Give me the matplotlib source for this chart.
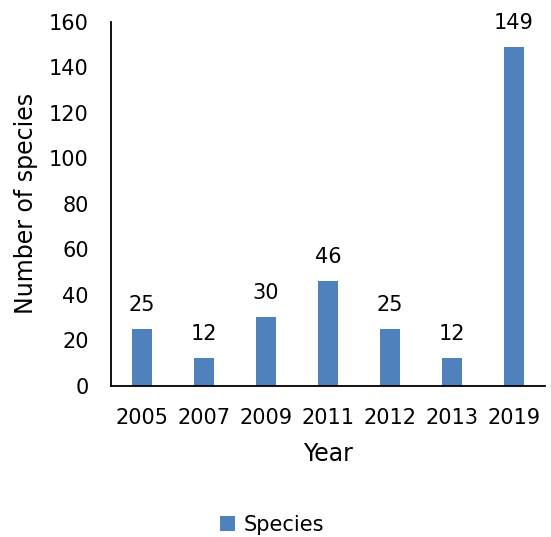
import matplotlib
matplotlib.use('Agg')
import matplotlib.pyplot as plt
import numpy as np

# data
years = ['2005', '2007', '2009', '2011', '2012', '2013', '2019']
species = [25, 12, 30, 46, 25, 12, 149]
bar_color = '#4F81BD'

plt.rcParams['font.family'] = ['DejaVu Sans']
fig = plt.figure(figsize=(5.51, 5.37), dpi=100)
ax = fig.add_axes([111 / 551, 1 - 385.5 / 537, 434 / 551, 363.5 / 537])

x = np.arange(len(years))
bars = ax.bar(x, species, width=0.32, color=bar_color, label='Species', zorder=2)
for xi, v in zip(x, species):
    ax.annotate(str(v), (xi, v), xytext=(0, 10), textcoords='offset points',
                ha='center', va='bottom', fontsize=15)

ax.set_xlim(-0.5, len(years) - 0.5)
ax.set_ylim(0, 160)
ax.set_yticks(np.arange(0, 161, 20))
ax.set_xticks(x)
ax.set_xticklabels(years)
ax.tick_params(axis='both', length=0, labelsize=15)
ax.tick_params(axis='y', pad=16)
ax.tick_params(axis='x', pad=16)

for s in ['top', 'right']:
    ax.spines[s].set_visible(False)
for s in ['left', 'bottom']:
    ax.spines[s].set_linewidth(1.3)
    ax.spines[s].set_color('black')

ax.set_xlabel('Year', fontsize=17, labelpad=10)
ax.set_ylabel('Number of species', fontsize=17, labelpad=8)

fig.legend(handles=[bars], labels=['Species'], loc='center', bbox_to_anchor=(272 / 551, 1 - 525 / 537),
           frameon=False, fontsize=15, handlelength=0.7, handleheight=0.7, handletextpad=0.4)

fig.savefig('out.png', dpi=100)
